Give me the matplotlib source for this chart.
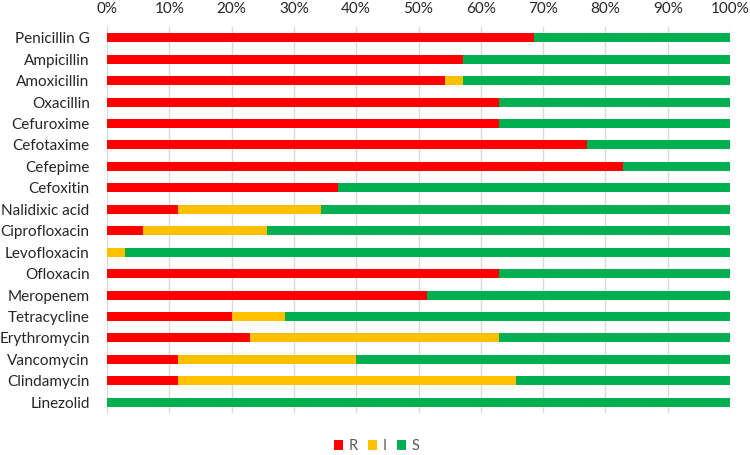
import matplotlib
matplotlib.use("Agg")
import matplotlib.pyplot as plt
import numpy as np

drugs = ["Penicillin G", "Ampicillin", "Amoxicillin", "Oxacillin", "Cefuroxime",
         "Cefotaxime", "Cefepime", "Cefoxitin", "Nalidixic acid", "Ciprofloxacin",
         "Levofloxacin", "Ofloxacin", "Meropenem", "Tetracycline", "Erythromycin",
         "Vancomycin", "Clindamycin", "Linezolid"]
R = [68.6, 57.1, 54.3, 62.9, 62.9, 77.1, 82.9, 37.1, 11.4, 5.7,
     0.0, 62.9, 51.4, 20.0, 22.9, 11.4, 11.4, 0.0]
I = [0.0, 0.0, 2.9, 0.0, 0.0, 0.0, 0.0, 0.0, 22.9, 20.0,
     2.9, 0.0, 0.0, 8.6, 40.0, 28.6, 54.3, 0.0]
S = [100 - r - i for r, i in zip(R, I)]
series = ["R", "I", "S"]
colors = ["#ff0000", "#ffc000", "#00b050"]
xticks = [0, 10, 20, 30, 40, 50, 60, 70, 80, 90, 100]

plt.rcParams['font.family'] = ['Lato', 'DejaVu Sans']

fig = plt.figure(figsize=(7.5, 4.55), dpi=100)
ax = fig.add_axes([107/750, 1 - 413/455, 623/750, (413 - 27)/455])

y = np.arange(len(drugs))
left = np.zeros(len(drugs))
for name, vals, c in zip(series, [R, I, S], colors):
    ax.barh(y, vals, left=left, height=0.42, color=c, label=name, zorder=3)
    left = left + np.array(vals)

ax.set_ylim(len(drugs) - 0.5, -0.5)
ax.set_xlim(0, 100)
ax.set_xticks(xticks)
ax.set_xticklabels([f"{t}%" for t in xticks])
ax.xaxis.tick_top()
ax.set_yticks(y)
ax.set_yticklabels(drugs)
ax.tick_params(axis='both', length=0, labelsize=11, colors="#262626")
ax.tick_params(axis='x', pad=8)
ax.tick_params(axis='y', pad=12.5)
ax.grid(axis='x', color="#d9d9d9", linewidth=1, zorder=0)
for s in ax.spines.values():
    s.set_visible(False)

leg = fig.legend(loc='center', bbox_to_anchor=(0.502, 1 - 446/455), ncol=3, frameon=False,
                 handlelength=0.65, handleheight=0.65, handletextpad=0.35, columnspacing=0.7,
                 fontsize=10.5, borderpad=0.1)
for t in leg.get_texts():
    t.set_color("#595959")

fig.savefig("out.png", dpi=100)
